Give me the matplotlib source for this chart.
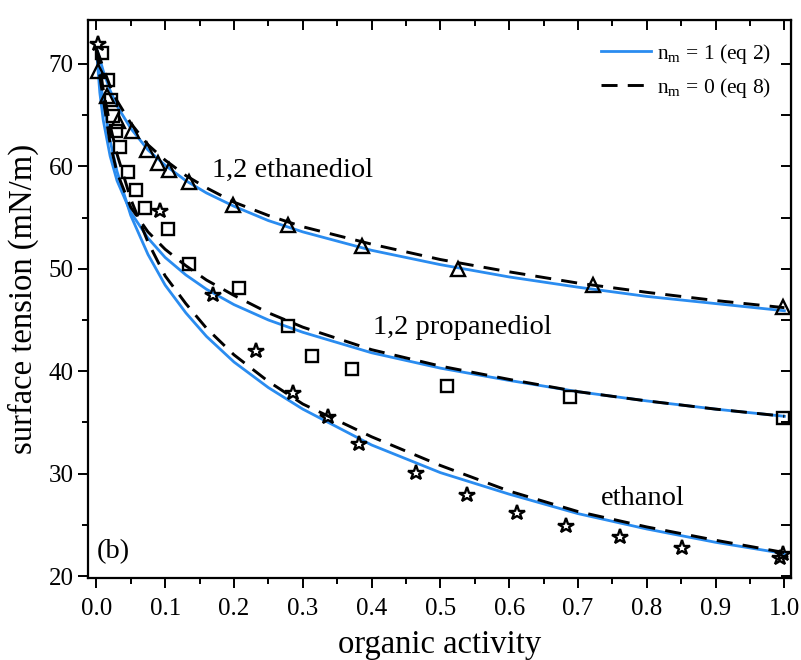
import matplotlib
matplotlib.use("Agg")
import matplotlib.pyplot as plt
from matplotlib.ticker import MultipleLocator

plt.rcParams['font.family'] = ['Liberation Serif', 'DejaVu Serif']
plt.rcParams['mathtext.fontset'] = 'custom'
plt.rcParams['mathtext.rm'] = 'Liberation Serif'

# ---- data ----
curve_x = [0.0, 0.005, 0.01, 0.02, 0.03, 0.05, 0.075, 0.1, 0.13, 0.16, 0.2, 0.25,
           0.3, 0.4, 0.5, 0.6, 0.7, 0.8, 0.9, 1.0]

ethanediol_nm1 = [71.5, 70.5, 69.3, 67.4, 65.9, 63.7, 61.6, 60.1, 58.6, 57.4, 56.1, 54.7,
                  53.6, 51.8, 50.4, 49.2, 48.2, 47.3, 46.6, 45.9]
ethanediol_nm0 = [71.5, 70.6, 69.6, 67.8, 66.4, 64.2, 62.1, 60.6, 59.1, 57.9, 56.5, 55.2,
                  54.1, 52.4, 50.9, 49.7, 48.6, 47.7, 46.9, 46.2]
propanediol_nm1 = [71.5, 67.2, 64.5, 61.0, 58.6, 55.5, 53.0, 51.1, 49.4, 48.0, 46.5, 45.0,
                   43.8, 41.8, 40.3, 39.1, 38.0, 37.1, 36.3, 35.6]
propanediol_nm0 = [71.5, 68.8, 66.6, 62.2, 59.4, 56.0, 53.6, 51.9, 50.3, 48.9, 47.4, 45.7,
                   44.3, 42.1, 40.5, 39.2, 38.0, 37.1, 36.3, 35.6]
ethanol_nm1 = [71.5, 68.8, 66.3, 62.5, 59.5, 55.2, 51.4, 48.4, 45.7, 43.4, 40.9, 38.4,
               36.3, 32.8, 30.1, 28.0, 26.1, 24.6, 23.3, 22.2]
ethanol_nm0 = [71.5, 69.5, 67.5, 64.0, 61.2, 56.8, 52.6, 49.3, 46.6, 44.2, 41.6, 39.0,
               36.8, 33.6, 30.8, 28.3, 26.3, 24.8, 23.5, 22.3]

tri_x = [0.003, 0.016, 0.032, 0.052, 0.074, 0.090, 0.106, 0.134, 0.199, 0.279, 0.386,
         0.526, 0.722, 0.998]
tri_y = [69.3, 66.9, 64.4, 63.4, 61.6, 60.3, 59.6, 58.5, 56.2, 54.3, 52.2, 50.0, 48.4, 46.3]

sq_x = [0.008, 0.017, 0.021, 0.024, 0.029, 0.035, 0.046, 0.057, 0.070, 0.104, 0.134,
        0.208, 0.278, 0.313, 0.371, 0.510, 0.689, 0.998]
sq_y = [71.1, 68.4, 66.5, 64.9, 63.4, 61.9, 59.4, 57.7, 55.9, 53.9, 50.5, 48.1, 44.4,
        41.5, 40.2, 38.6, 37.5, 35.4]

star_x = [0.002, 0.093, 0.169, 0.232, 0.286, 0.336, 0.381, 0.464, 0.539, 0.612, 0.683,
          0.761, 0.851, 0.998, 0.993]
star_y = [71.9, 55.6, 47.4, 42.0, 37.9, 35.5, 32.9, 30.1, 27.9, 26.2, 24.9, 23.8, 22.7,
          22.2, 21.8]

x_ticks = [0.0, 0.1, 0.2, 0.3, 0.4, 0.5, 0.6, 0.7, 0.8, 0.9, 1.0]
y_ticks = [20, 30, 40, 50, 60, 70]

blue = '#2a8cf0'
dash = (0, (5.5, 3.5))

fig = plt.figure(figsize=(8.01, 6.60), dpi=100)
ax = fig.add_axes([0.110, 0.124, 0.877, 0.846])

l1, = ax.plot(curve_x, ethanediol_nm1, color=blue, lw=2.0, zorder=3)
ax.plot(curve_x, propanediol_nm1, color=blue, lw=2.0, zorder=3)
ax.plot(curve_x, ethanol_nm1, color=blue, lw=2.0, zorder=3)
l2, = ax.plot(curve_x, ethanediol_nm0, color='black', lw=2.1, ls=dash, zorder=4)
ax.plot(curve_x, propanediol_nm0, color='black', lw=2.1, ls=dash, zorder=4)
ax.plot(curve_x, ethanol_nm0, color='black', lw=2.1, ls=dash, zorder=4)

mk = dict(ls='none', mfc='none', mec='black', mew=1.7, zorder=5)
ax.plot(tri_x, tri_y, marker='^', ms=10.5, **mk)
ax.plot(sq_x, sq_y, marker='s', ms=8.5, **mk)
ax.plot(star_x, star_y, marker='*', ms=11.5, **mk)

ax.set_xlim(-0.012, 1.009)
ax.set_ylim(19.8, 74.3)
ax.set_xticks(x_ticks)
ax.set_xticklabels([f'{v:.1f}' for v in x_ticks])
ax.set_yticks(y_ticks)
ax.xaxis.set_minor_locator(MultipleLocator(0.05))
ax.yaxis.set_minor_locator(MultipleLocator(5))
ax.tick_params(axis='both', which='both', direction='out', width=1.4, labelsize=18)
ax.tick_params(which='major', length=7)
ax.tick_params(which='minor', length=4)
ax.tick_params(axis='x', which='major', pad=7)
for s in ax.spines.values():
    s.set_linewidth(1.6)

ax2 = ax.secondary_xaxis('top')
ax2.set_xticks(x_ticks)
ax2.xaxis.set_minor_locator(MultipleLocator(0.05))
ax2.tick_params(axis='x', which='both', direction='in', labeltop=False, width=1.4)
ax2.tick_params(which='major', length=7)
ax2.tick_params(which='minor', length=4)
ax3 = ax.secondary_yaxis('right')
ax3.set_yticks(y_ticks)
ax3.yaxis.set_minor_locator(MultipleLocator(5))
ax3.tick_params(axis='y', which='both', direction='in', labelright=False, width=1.4, length=7)

ax.set_xlabel('organic activity', fontsize=23.5, labelpad=7)
ax.set_ylabel('surface tension (mN/m)', fontsize=23.5, labelpad=7)

ax.text(0.168, 59.6, '1,2 ethanediol', fontsize=20.5, va='center', ha='left')
ax.text(0.402, 44.3, '1,2 propanediol', fontsize=20.5, va='center', ha='left')
ax.text(0.733, 27.6, 'ethanol', fontsize=20.5, va='center', ha='left')
ax.text(0.001, 22.4, '(b)', fontsize=20.5, va='center', ha='left')

ax.legend([l1, l2], [r'n$_\mathregular{m}$ = 1 (eq 2)', r'n$_\mathregular{m}$ = 0 (eq 8)'],
          loc='upper right', frameon=False, fontsize=15.5, handlelength=2.3,
          handletextpad=0.3, labelspacing=0.45, bbox_to_anchor=(1.0, 0.995))

fig.savefig('out.png', dpi=100)
